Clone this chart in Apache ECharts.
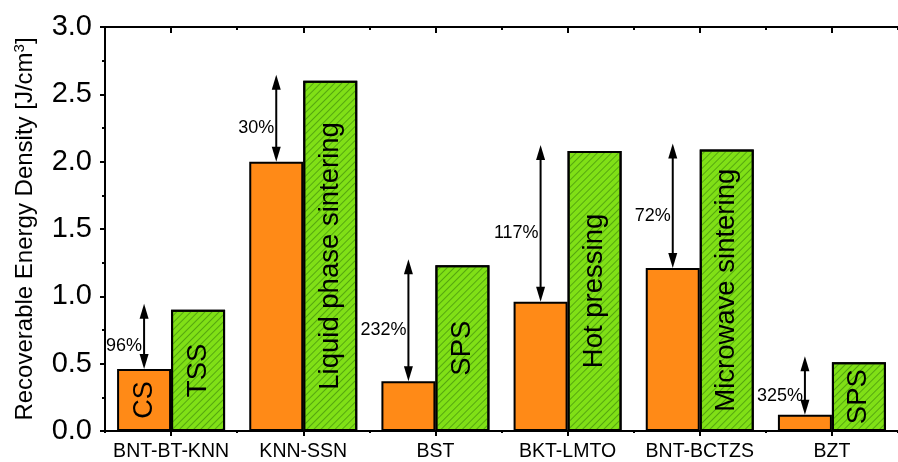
<!DOCTYPE html>
<html>
<head>
<meta charset="utf-8">
<script src="https://cdn.jsdelivr.net/npm/echarts@6/dist/echarts.min.js"></script>
<style>
  html, body { margin: 0; padding: 0; background: #fff; }
  #chart { width: 898px; height: 462px; }
</style>
</head>
<body>
<div id="chart"></div>
<script>
// Ceramic systems on the x axis
const categories = ['BNT-BT-KNN', 'KNN-SSN', 'BST', 'BKT-LMTO', 'BNT-BCTZS', 'BZT'];
// Recoverable energy density [J/cm3], conventional route vs. advanced route
const conventional = [0.46, 2.00, 0.37, 0.96, 1.21, 0.12];
const advanced = [0.90, 2.60, 1.23, 2.08, 2.09, 0.51];
// Text written inside the bars
const conventionalNames = ['CS', '', '', '', '', ''];
const advancedNames = ['TSS', 'Liquid phase sintering', 'SPS', 'Hot pressing', 'Microwave sintering', 'SPS'];
// Improvement stated next to each arrow
const gains = ['96%', '30%', '232%', '117%', '72%', '325%'];
// Y axis ticks
const yTicks = { min: 0, max: 3, interval: 0.5 };

const FONT = 'Liberation Sans, Arial, Helvetica, sans-serif';
const BAR_W = 54;

const chart = echarts.init(document.getElementById('chart'), null, { renderer: 'canvas' });

const arrowData = categories.map((c, i) => [i, conventional[i], advanced[i], gains[i]]);

function renderArrow(params, api) {
  const i = api.value(0);
  const lo = api.value(1);
  const hi = api.value(2);
  const x = api.coord([i, 0])[0] - BAR_W / 2;
  const yBot = api.coord([i, lo])[1];
  const yTop = api.coord([i, hi])[1] - 6;
  const headL = 15, headW = 4.5;
  const mid = (yTop + yBot) / 2 + 10;
  return {
    type: 'group',
    children: [
      { type: 'line', shape: { x1: x, y1: yTop + headL - 2, x2: x, y2: yBot - headL + 2 },
        style: { stroke: '#000', lineWidth: 2 } },
      { type: 'polygon', shape: { points: [[x, yTop], [x - headW, yTop + headL], [x + headW, yTop + headL]] },
        style: { fill: '#000' } },
      { type: 'polygon', shape: { points: [[x, yBot], [x - headW, yBot - headL], [x + headW, yBot - headL]] },
        style: { fill: '#000' } },
      { type: 'text', x: x - 2, y: mid,
        style: { text: api.value(3), fill: '#000', font: '18px ' + FONT, align: 'right', verticalAlign: 'middle' } }
    ]
  };
}

const baseCat = { type: 'category', data: categories, boundaryGap: true };

const option = {
  animation: false,
  backgroundColor: '#fff',
  grid: { left: 105, top: 27, bottom: 30, right: -11, containLabel: false },
  xAxis: [
    Object.assign({}, baseCat, {
      position: 'bottom',
      axisLine: { show: true, lineStyle: { color: '#000', width: 2 } },
      axisTick: { show: true, interval: 0, alignWithLabel: true, length: 5, lineStyle: { color: '#000', width: 2 } },
      axisLabel: { color: '#000', fontSize: 19.5, fontFamily: FONT, margin: 11, interval: 0 },
      splitLine: { show: false }
    }),
    Object.assign({}, baseCat, {
      position: 'bottom',
      axisLine: { show: false },
      axisTick: { show: true, interval: 0, length: 2, lineStyle: { color: '#000', width: 2 } },
      axisLabel: { show: false },
      splitLine: { show: false }
    }),
    Object.assign({}, baseCat, {
      position: 'top',
      axisLine: { show: true, lineStyle: { color: '#000', width: 2 } },
      axisTick: { show: true, interval: 0, inside: true, alignWithLabel: true, length: 6, lineStyle: { color: '#000', width: 2 } },
      axisLabel: { show: false },
      splitLine: { show: false }
    }),
    Object.assign({}, baseCat, {
      position: 'top',
      axisLine: { show: false },
      axisTick: { show: true, interval: 0, inside: true, length: 3, lineStyle: { color: '#000', width: 2 } },
      axisLabel: { show: false },
      splitLine: { show: false }
    })
  ],
  yAxis: {
    type: 'value',
    min: yTicks.min, max: yTicks.max, interval: yTicks.interval,
    name: 'Recoverable Energy Density [J/cm{sup|3}]',
    nameLocation: 'middle',
    nameGap: 66,
    nameTextStyle: {
      color: '#000', fontSize: 24, fontFamily: FONT,
      rich: { sup: { fontSize: 15, fontFamily: FONT, color: '#000', verticalAlign: 'top', padding: [0, 0, 12, 0] } }
    },
    axisLine: { show: true, lineStyle: { color: '#000', width: 2 } },
    axisTick: { show: true, length: 5, lineStyle: { color: '#000', width: 2 } },
    minorTick: { show: true, splitNumber: 2, length: 3, lineStyle: { color: '#000', width: 2 } },
    axisLabel: { color: '#000', fontSize: 29, fontFamily: FONT, margin: 13, formatter: v => v.toFixed(1) },
    splitLine: { show: false }
  },
  series: [
    {
      type: 'bar', name: 'conventional', data: conventional, xAxisIndex: 0,
      barWidth: BAR_W, barGap: '0%',
      itemStyle: { color: '#FF8A17', borderColor: '#000', borderWidth: 2 },
      label: { show: true, position: 'inside', rotate: 90, color: '#000', fontSize: 27, fontFamily: FONT,
               formatter: p => conventionalNames[p.dataIndex] }
    },
    {
      type: 'bar', name: 'advanced', data: advanced, xAxisIndex: 0,
      barWidth: BAR_W, barGap: '0%',
      itemStyle: {
        color: '#80E016', borderColor: '#000', borderWidth: 2,
        decal: { symbol: 'rect', symbolSize: 1, dashArrayX: [1, 0], dashArrayY: [1, 3.2],
                 rotation: -Math.PI / 4, color: 'rgba(50,120,10,0.55)' }
      },
      label: { show: true, position: 'inside', rotate: 90, color: '#000', fontSize: 27.5, fontFamily: FONT,
               formatter: p => advancedNames[p.dataIndex] }
    },
    {
      type: 'custom', name: 'gain', xAxisIndex: 0, data: arrowData,
      renderItem: renderArrow, clip: false, z: 5,
      encode: { x: 0, y: [1, 2] }
    }
  ]
};

chart.setOption(option);
</script>
</body>
</html>
